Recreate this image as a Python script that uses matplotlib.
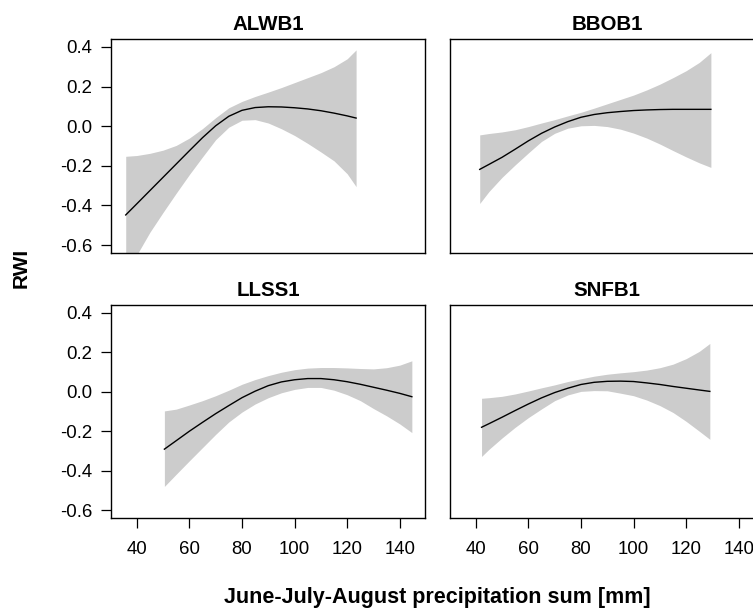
import numpy as np
import matplotlib.pyplot as plt

plt.rcParams['font.family'] = ['Liberation Sans', 'DejaVu Sans']

# GAM smooths of ring-width index vs summer precipitation, one per site
sites = ['ALWB1', 'BBOB1', 'LLSS1', 'SNFB1']

alwb1_prec = [35.8, 40, 45, 50, 55, 60, 65, 70, 75, 80, 85, 90, 95, 100, 105, 110, 115, 120, 123.4]
alwb1_fit = [-0.448, -0.392, -0.325, -0.258, -0.191, -0.124, -0.058, 0.002, 0.050, 0.080, 0.094,
             0.098, 0.097, 0.093, 0.087, 0.078, 0.066, 0.052, 0.041]
alwb1_lo = [-0.78, -0.65, -0.535, -0.435, -0.338, -0.244, -0.155, -0.068, -0.005, 0.030, 0.033,
            0.016, -0.013, -0.047, -0.087, -0.130, -0.175, -0.240, -0.305]
alwb1_hi = [-0.152, -0.148, -0.137, -0.121, -0.097, -0.060, -0.012, 0.043, 0.093, 0.125, 0.150,
            0.172, 0.195, 0.220, 0.245, 0.270, 0.300, 0.340, 0.385]

bbob1_prec = [41.5, 45, 50, 55, 60, 65, 70, 75, 80, 85, 90, 95, 100, 105, 110, 115, 120, 125, 129.4]
bbob1_fit = [-0.218, -0.193, -0.157, -0.116, -0.074, -0.036, -0.004, 0.023, 0.045, 0.059, 0.068,
             0.074, 0.079, 0.082, 0.084, 0.085, 0.085, 0.085, 0.085]
bbob1_lo = [-0.390, -0.330, -0.258, -0.195, -0.135, -0.077, -0.036, -0.010, 0.002, 0.004, -0.002,
            -0.015, -0.035, -0.060, -0.090, -0.123, -0.155, -0.185, -0.208]
bbob1_hi = [-0.044, -0.037, -0.029, -0.018, -0.002, 0.016, 0.033, 0.052, 0.070, 0.091, 0.113,
            0.135, 0.157, 0.183, 0.212, 0.245, 0.280, 0.322, 0.371]

llss1_prec = [50.5, 55, 60, 65, 70, 75, 80, 85, 90, 95, 100, 105, 110, 115, 120, 125, 130, 135, 140, 144.6]
llss1_fit = [-0.291, -0.248, -0.200, -0.155, -0.111, -0.070, -0.030, 0.003, 0.031, 0.050, 0.061,
             0.067, 0.067, 0.061, 0.051, 0.038, 0.023, 0.008, -0.008, -0.025]
llss1_lo = [-0.480, -0.418, -0.350, -0.283, -0.216, -0.153, -0.103, -0.062, -0.030, -0.005, 0.012,
            0.022, 0.022, 0.008, -0.015, -0.045, -0.085, -0.122, -0.163, -0.207]
llss1_hi = [-0.097, -0.088, -0.067, -0.045, -0.020, 0.008, 0.038, 0.062, 0.082, 0.099, 0.112,
            0.120, 0.123, 0.123, 0.121, 0.118, 0.116, 0.122, 0.135, 0.157]

snfb1_prec = [42.2, 45, 50, 55, 60, 65, 70, 75, 80, 85, 90, 95, 100, 105, 110, 115, 120, 125, 129]
snfb1_fit = [-0.180, -0.162, -0.129, -0.095, -0.062, -0.031, -0.004, 0.018, 0.037, 0.048, 0.053,
             0.054, 0.052, 0.045, 0.037, 0.027, 0.018, 0.009, 0.002]
snfb1_lo = [-0.328, -0.292, -0.234, -0.180, -0.131, -0.087, -0.045, -0.016, 0.002, 0.006, 0.005,
            -0.007, -0.020, -0.042, -0.070, -0.105, -0.150, -0.200, -0.241]
snfb1_hi = [-0.033, -0.030, -0.023, -0.011, 0.004, 0.020, 0.035, 0.052, 0.066, 0.079, 0.089,
            0.096, 0.102, 0.110, 0.122, 0.140, 0.168, 0.205, 0.245]

x_ticks = [40, 60, 80, 100, 120, 140]
y_ticks = [-0.6, -0.4, -0.2, 0.0, 0.2, 0.4]

curves = {
    'ALWB1': (alwb1_prec, alwb1_fit, alwb1_lo, alwb1_hi),
    'BBOB1': (bbob1_prec, bbob1_fit, bbob1_lo, bbob1_hi),
    'LLSS1': (llss1_prec, llss1_fit, llss1_lo, llss1_hi),
    'SNFB1': (snfb1_prec, snfb1_fit, snfb1_lo, snfb1_hi),
}

W, H = 753, 610
fig = plt.figure(figsize=(W / 100, H / 100), dpi=100)

# panel boxes in pixels: left, top, right, bottom
boxes = {
    'ALWB1': (111, 39, 425, 253),
    'BBOB1': (450, 39, 764, 253),
    'LLSS1': (111, 305, 425, 518),
    'SNFB1': (450, 305, 764, 518),
}

for i, site in enumerate(sites):
    l, t, r, b = boxes[site]
    ax = fig.add_axes([l / W, 1 - b / H, (r - l) / W, (b - t) / H])
    x, fit, lo, hi = (np.array(v) for v in curves[site])
    ax.fill_between(x, lo, hi, color='#cccccc', linewidth=0)
    ax.plot(x, fit, color='black', lw=1.0)

    ax.set_xlim(30.2, 149.6)
    ax.set_ylim(-0.64, 0.44)
    for s in ax.spines.values():
        s.set_linewidth(1.0)

    ax.tick_params(direction='out', length=7.5, width=0.9, labelsize=13.4, pad=6)
    ax.tick_params(axis='x', pad=9)
    if i % 2 == 0:
        ax.set_yticks(y_ticks)
        ax.set_yticklabels([f'{v:.1f}' for v in y_ticks])
    else:
        ax.set_yticks([])
    if i >= 2:
        ax.set_xticks(x_ticks)
    else:
        ax.set_xticks([])

    fig.text((l + r) / 2 / W, 1 - (t - 9.5) / H, site, ha='center', va='baseline',
             fontsize=14.8, fontweight='bold')

fig.text(437.5 / W, 1 - 603 / H, 'June-July-August precipitation sum [mm]', ha='center',
         va='baseline', fontsize=15.5, fontweight='bold')
fig.text(21 / W, 1 - 268 / H, 'RWI', ha='center', va='center', rotation=90,
         fontsize=15.0, fontweight='bold')

fig.savefig('out.png', dpi=100)
